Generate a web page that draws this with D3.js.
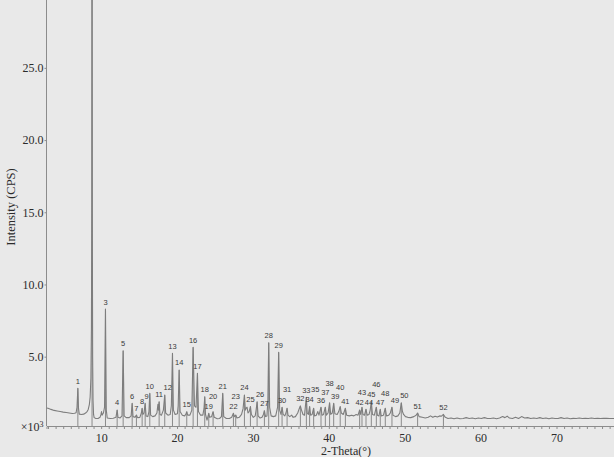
<!DOCTYPE html>
<html>
<head>
<meta charset="utf-8">
<script src="https://cdn.jsdelivr.net/npm/d3@7/dist/d3.min.js"></script>
<style>
  html, body { margin: 0; padding: 0; background: #e9e9e9; }
  svg { display: block; }
</style>
</head>
<body>
<svg id="chart" width="614" height="457"></svg>
<script>
// ---- Data ----
// Measured diffraction profile: [2-Theta (deg), intensity (x10^3 CPS)]
const profile = [
  [2.8,1.45],[3.0,1.43],[3.4,1.35],[3.8,1.28],[4.2,1.24],[4.6,1.2],[5.0,1.16],[5.4,1.13],[5.8,1.1],[6.2,1.07],
  [6.5,1.08],[6.7,1.12],[6.82,1.5],[6.93,2.81],[7.02,1.4],[7.12,1.02],[7.4,1.0],[7.7,1.02],[7.95,1.1],
  [8.15,1.2],[8.3,1.35],[8.45,1.7],[8.55,2.2],[8.65,3.5],[8.72,7],[8.77,16],[8.8,40],[8.84,14],[8.88,5],[8.93,2.0],
  [9.0,1.0],[9.08,0.78],[9.3,0.72],[9.6,0.72],[9.85,0.8],[9.98,1.0],[10.05,1.2],[10.12,0.95],[10.3,1.1],
  [10.45,1.5],[10.57,8.3],[10.68,1.3],[10.8,0.75],[11.2,0.72],[11.6,0.74],[11.95,0.8],[12.11,1.31],[12.22,0.8],
  [12.5,0.76],[12.75,0.9],[12.9,5.41],[13.03,0.9],[13.3,0.78],[13.7,0.78],[13.95,0.9],[14.09,1.77],[14.2,0.85],
  [14.45,0.8],[14.65,0.96],[14.8,0.78],[15.1,0.8],[15.3,1.1],[15.4,1.43],[15.5,1.0],[15.65,1.1],[15.8,1.77],
  [15.92,0.9],[16.15,0.85],[16.3,1.2],[16.41,2.46],[16.52,0.95],[16.8,0.85],[17.1,0.9],[17.35,1.1],[17.48,1.7],
  [17.56,1.3],[17.64,1.88],[17.75,1.0],[17.95,0.95],[18.2,1.3],[18.38,2.35],[18.5,1.1],[18.8,0.95],[19.1,1.0],
  [19.25,1.6],[19.4,5.23],[19.52,1.3],[19.75,1.0],[20.05,1.05],[20.15,1.6],[20.28,4.08],[20.4,1.2],[20.7,0.95],
  [21.0,0.9],[21.15,1.0],[21.28,1.19],[21.4,0.95],[21.7,0.95],[21.95,1.3],[22.12,5.65],[22.3,1.6],[22.5,1.5],
  [22.69,3.85],[22.82,1.2],[23.1,0.95],[23.4,0.95],[23.55,1.4],[23.65,2.23],[23.75,1.0],[23.95,0.6],[24.18,1.08],
  [24.3,0.8],[24.55,0.85],[24.75,1.19],[24.9,0.8],[25.3,0.7],[25.6,0.72],[25.85,0.85],[26.02,2.46],[26.15,0.85],
  [26.5,0.72],[26.9,0.72],[27.2,0.8],[27.43,1.08],[27.55,0.85],[27.73,0.96],[27.9,0.75],[28.2,0.8],[28.5,1.0],
  [28.7,1.4],[28.88,2.35],[29.0,1.3],[29.12,1.45],[29.23,1.5],[29.35,1.1],[29.5,1.2],[29.67,1.54],[29.8,1.0],
  [30.05,0.8],[30.3,0.9],[30.42,1.3],[30.55,1.88],[30.68,0.9],[30.95,0.75],[31.2,0.8],[31.38,1.0],[31.51,1.26],
  [31.65,0.85],[31.85,0.9],[31.97,2.0],[32.08,5.97],[32.2,1.5],[32.4,0.9],[32.7,0.85],[33.0,0.9],[33.25,1.5],
  [33.39,5.3],[33.52,1.3],[33.7,1.0],[33.84,1.5],[33.98,1.0],[34.2,0.9],[34.35,1.1],[34.5,1.43],[34.62,0.95],
  [34.85,0.85],[35.1,0.95],[35.3,0.8],[35.6,0.85],[35.9,1.1],[36.1,1.4],[36.25,1.59],[36.4,1.3],[36.6,1.0],
  [36.8,0.95],[36.92,1.6],[37.04,2.19],[37.15,1.1],[37.3,1.0],[37.47,1.54],[37.6,0.95],[37.8,1.0],[38.0,1.43],
  [38.12,0.9],[38.35,0.95],[38.55,1.2],[38.7,0.95],[38.97,1.5],[39.1,0.95],[39.3,1.0],[39.54,1.5],[39.68,0.95],
  [39.9,1.1],[40.1,1.81],[40.25,1.0],[40.45,1.1],[40.64,1.77],[40.8,1.05],[41.1,1.0],[41.3,1.2],[41.5,1.54],
  [41.65,1.1],[41.9,1.0],[42.18,1.43],[42.35,0.95],[42.7,0.9],[43.0,0.95],[43.3,0.9],[43.6,1.0],[43.85,0.95],
  [44.06,1.31],[44.2,1.0],[44.37,1.5],[44.5,1.0],[44.7,0.95],[44.9,1.36],[45.05,0.95],[45.3,1.0],[45.45,1.3],
  [45.6,1.88],[45.75,1.0],[46.0,0.95],[46.26,1.5],[46.4,0.95],[46.6,0.9],[46.78,1.36],[46.9,0.9],[47.2,0.95],
  [47.44,1.43],[47.6,0.9],[47.9,0.95],[48.1,1.1],[48.32,1.5],[48.45,0.95],[48.8,0.85],[49.1,0.9],[49.35,1.1],
  [49.55,1.8],[49.7,1.2],[49.85,1.0],[50.1,0.85],[50.4,0.8],[50.8,0.78],[51.2,0.85],[51.5,0.95],[51.7,1.1],
  [51.9,0.85],[52.3,0.8],[52.7,0.75],[53.1,0.8],[53.4,0.9],[53.7,0.8],[54.0,0.88],[54.3,0.82],[54.6,0.9],
  [54.85,0.88],[55.1,1.0],[55.35,0.8],[55.7,0.72],[56.1,0.75],[56.5,0.7],[56.9,0.75],[57.3,0.7],[57.7,0.72],
  [58.1,0.78],[58.5,0.72],[58.9,0.75],[59.3,0.7],[59.7,0.75],[60.1,0.72],[60.5,0.78],[60.9,0.72],[61.3,0.72],
  [61.7,0.75],[62.1,0.7],[62.5,0.75],[62.9,0.85],[63.2,0.78],[63.5,0.88],[63.8,0.75],[64.2,0.72],[64.6,0.8],
  [65.0,0.72],[65.4,0.85],[65.8,0.75],[66.2,0.78],[66.6,0.72],[67.0,0.75],[67.4,0.72],[67.8,0.78],[68.2,0.72],
  [68.6,0.75],[69.0,0.7],[69.4,0.75],[69.8,0.72],[70.2,0.72],[70.6,0.78],[71.0,0.72],[71.4,0.75],[71.8,0.7],
  [72.2,0.73],[72.6,0.72],[73.0,0.75],[73.4,0.72],[73.8,0.74],[74.2,0.72],[74.6,0.75],[75.0,0.72],[75.4,0.74],
  [75.8,0.72],[76.2,0.73],[76.6,0.74],[77.0,0.72],[78.0,0.72],[80.0,0.72]
];

// Identified peak numbers, their 2-Theta positions and apex intensities
const peakLabels = ["1","2","3","4","5","6","7","8","9","10","11","12","13","14","15","16","17","18","19","20",
  "21","22","23","24","25","26","27","28","29","30","31","32","33","34","35","36","37","38","39","40",
  "41","42","43","44","45","46","47","48","49","50","51","52"];
const peakPos = [6.93,8.8,10.57,12.11,12.9,14.09,14.65,15.4,15.8,16.41,17.64,18.38,19.4,20.28,21.28,22.12,22.69,23.65,24.18,24.75,
  26.02,27.43,27.73,28.88,29.67,30.55,31.51,32.08,33.39,33.84,34.5,36.25,37.04,37.47,38.0,38.97,39.54,40.1,40.64,41.5,
  42.18,44.06,44.37,44.9,45.6,46.26,46.78,47.44,48.32,49.55,51.7,55.1];
const peakInt = [2.81,40,8.3,1.31,5.41,1.77,0.96,1.43,1.77,2.46,1.88,2.35,5.23,4.08,1.19,5.65,3.85,2.23,1.08,1.19,
  2.46,1.08,0.96,2.35,1.54,1.88,1.26,5.97,5.3,1.5,1.43,1.59,2.19,1.54,1.43,1.5,1.5,1.81,1.77,1.54,
  1.43,1.31,1.5,1.36,1.88,1.5,1.36,1.43,1.5,1.8,1.1,1.0];

const xTickLabels = [10,20,30,40,50,60,70];
const yTickLabels = [5,10,15,20,25];

// ---- Chart ----
const svg = d3.select("#chart");
const W = 614, H = 457;

const x = d3.scaleLinear().domain([2.8, 80]).range([46.5, 632.4]);
const y = d3.scaleLinear().domain([0.2, 29.7]).range([426, 0]);

svg.append("rect").attr("width", W).attr("height", H).attr("fill", "#e9e9e9");

svg.append("defs").append("clipPath").attr("id", "plotclip")
  .append("rect").attr("x", x(2.8)).attr("y", 0).attr("width", W - x(2.8)).attr("height", y(0.2));

const axisColor = "#8c8c8c";
const textColor = "#2b2b2b";
const lineColor = "#7d7d7d";
const serif = "'Liberation Serif', 'Times New Roman', serif";

// x axis
const xAxis = d3.axisBottom(x)
  .tickValues(d3.range(3, 80, 1))
  .tickSize(3)
  .tickFormat(d => xTickLabels.includes(d) ? String(d) : "");
const gx = svg.append("g").attr("transform", `translate(0,${y(0.2)})`).call(xAxis);
gx.select(".domain").attr("stroke", axisColor);
gx.selectAll(".tick line").attr("stroke", axisColor);
gx.selectAll(".tick text")
  .attr("fill", textColor)
  .attr("font-family", serif)
  .attr("font-size", 12)
  .attr("dy", "0.8em");

// y axis
const yAxis = d3.axisLeft(y)
  .tickValues(yTickLabels)
  .tickSize(2)
  .tickPadding(1)
  .tickFormat(d3.format(".1f"));
const gy = svg.append("g").attr("transform", `translate(${x(2.8)},0)`).call(yAxis);
gy.select(".domain").attr("stroke", axisColor).attr("d", `M0,${y(0.2)}V0`);
gy.selectAll(".tick line").attr("stroke", axisColor);
gy.selectAll(".tick text")
  .attr("fill", textColor)
  .attr("font-family", serif)
  .attr("font-size", 12);

// x10^3 multiplier
svg.append("text")
  .attr("x", x(2.8) - 3).attr("y", y(0.2) + 5)
  .attr("text-anchor", "end")
  .attr("fill", textColor)
  .attr("font-family", serif)
  .attr("font-size", 12)
  .text("×10")
  .append("tspan").attr("font-size", 8).attr("dy", -4).text("3");

// axis titles
svg.append("text")
  .attr("x", 346).attr("y", 455)
  .attr("text-anchor", "middle")
  .attr("fill", textColor)
  .attr("font-family", serif)
  .attr("font-size", 12)
  .text("2-Theta(°)");

svg.append("text")
  .attr("transform", `translate(15,207) rotate(-90)`)
  .attr("text-anchor", "middle")
  .attr("fill", textColor)
  .attr("font-family", serif)
  .attr("font-size", 12.5)
  .text("Intensity (CPS)");

const plot = svg.append("g").attr("clip-path", "url(#plotclip)");

// peak marker sticks
const peaks = peakLabels.map((l, i) => ({ label: l, pos: peakPos[i], val: peakInt[i] }));
plot.selectAll("line.stick").data(peaks).join("line")
  .attr("class", "stick")
  .attr("x1", d => x(d.pos)).attr("x2", d => x(d.pos))
  .attr("y1", d => y(d.val)).attr("y2", y(0.2))
  .attr("stroke", "#8a8a8a").attr("stroke-width", 1);

// profile line
const line = d3.line().x(d => x(d[0])).y(d => y(d[1]));
plot.append("path")
  .datum(profile)
  .attr("d", line)
  .attr("fill", "none")
  .attr("stroke", lineColor)
  .attr("stroke-width", 1.1)
  .attr("stroke-linejoin", "round");

// peak labels (only those whose apex is inside the frame), with simple de-overlap
const shown = peaks.filter(d => d.val < 29);
const labels = svg.selectAll("text.plabel").data(shown).join("text")
  .attr("class", "plabel")
  .attr("text-anchor", "start")
  .attr("fill", "#3a3a3a")
  .attr("font-family", "'Liberation Sans', Arial, sans-serif")
  .attr("font-size", 7.5)
  .text(d => d.label);

const FH = 7;  // approx label height
const placed = [];
labels.each(function(d) {
  const w = this.getComputedTextLength();
  let lx = x(d.pos) - w / 2;
  let by = y(d.val) - 4.5;   // baseline
  const hits = (bx, bb) => placed.some(p =>
    bx < p.x + p.w + 0.3 && bx + w > p.x - 0.3 && bb - FH < p.b && bb > p.b - FH);
  // try small horizontal nudges first, then move up
  let done = false;
  for (let tries = 0; tries < 12 && !done; tries++) {
    for (const dx of [0, 1.5, -1.5, 3, -3]) {
      if (!hits(lx + dx, by)) { lx += dx; done = true; break; }
    }
    if (!done) by -= 4;
  }
  placed.push({ x: lx, w: w, b: by });
  d3.select(this).attr("x", lx).attr("y", by);
});
</script>
</body>
</html>
